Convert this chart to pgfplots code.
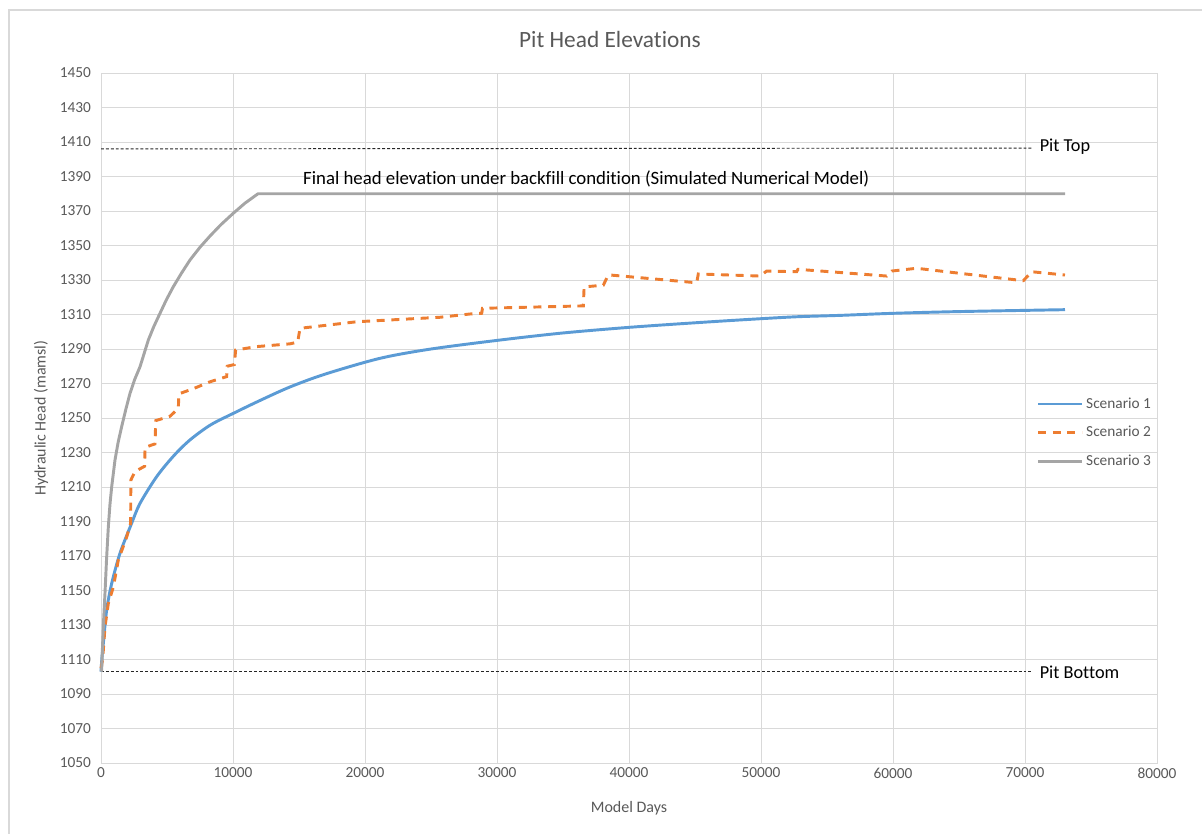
\documentclass[border=0pt]{standalone}
\usepackage{fontspec}
\setmainfont{Carlito}[Ligatures=NoCommon]
\usepackage{pgfplots}
\pgfplotsset{compat=1.18}
\definecolor{gridgray}{HTML}{D9D9D9}
\definecolor{txtgray}{HTML}{595959}
\definecolor{sone}{HTML}{5B9BD5}
\definecolor{stwo}{HTML}{ED7D31}
\definecolor{sthree}{HTML}{A5A5A5}
\definecolor{framegray}{HTML}{D9D9D9}
\begin{document}
\begin{tikzpicture}
\path[use as bounding box] (0pt,0pt) rectangle (901.5pt,-624.75pt);
\draw[framegray,line width=0.8pt] (6.75pt,-640pt) -- (6.75pt,-7.5pt) -- (910pt,-7.5pt);
\begin{axis}[
  at={(75.75pt,-572.25pt)}, anchor=south west,
  scale only axis, width=792pt, height=517.5pt,
  xmin=0, xmax=80000, ymin=1050, ymax=1450,
  xtick={0,10000,...,80000}, ytick={1050,1070,...,1450},
  scaled x ticks=false,
  xticklabel style={/pgf/number format/1000 sep={}},
  yticklabel style={/pgf/number format/1000 sep={}, xshift=-4pt},
  /pgf/number format/assume math mode=true,
  tick label style={font=\fontsize{11.5}{13}\selectfont, text=txtgray},
  major tick length=0pt,
  grid=major, grid style={draw=gridgray, line width=0.75pt},
  axis line style={draw=gridgray, line width=0.75pt},
  every axis title shift=0pt,
  title={Pit Head Elevations},
  title style={at={(axis description cs:0.482,1.0493)}, anchor=center, font=\fontsize{17.5}{20}\selectfont, text=txtgray},
  xlabel={Model Days}, ylabel={Hydraulic Head (mamsl)},
  every axis x label/.style={at={(axis description cs:0.5,-0.0652)}, anchor=center, font=\fontsize{12}{14}\selectfont, text=txtgray},
  every axis y label/.style={at={(axis description cs:-0.0568,0.5)}, rotate=90, anchor=center, font=\fontsize{12}{14}\selectfont, text=txtgray},
  legend style={at={(axis description cs:0.886,0.5338)}, anchor=north west, draw=none, fill=none, inner sep=0pt, outer sep=0pt, row sep=7.4pt,
     font=\fontsize{11.5}{13}\selectfont, text=txtgray,
     nodes={text height=8pt, text depth=2pt, inner sep=2pt}},
  legend cell align=left,
  legend image code/.code={\draw[#1] (0pt,0pt) -- (33pt,0pt);},
  clip=false,
]
% Pit top / bottom reference lines
\addplot[forget plot, black!85, line width=0.7pt, dash pattern=on 2.2pt off 1.5pt] coordinates {(0,1406) (70500,1406.5)};
\addplot[forget plot, black!85, line width=0.7pt, dash pattern=on 2.2pt off 1.5pt] coordinates {(0,1103) (70500,1103)};
% Scenario 1
\addplot[sone, line width=2.2pt, smooth, tension=0.5] coordinates {
(0,1103) (60,1110) (177,1119.4) (429,1138.7) (808,1154) (1439,1171.6) (2323,1189) (2955,1200.5) (4217,1216) (5500,1228) (6742,1237.3) (8300,1246) (10023,1252.7) (12000,1260) (14318,1268) (17000,1275.5) (21136,1284.6) (25000,1290) (30227,1295.2) (35000,1299.3) (40076,1302.6) (45000,1305.2) (49167,1307.2) (52703,1308.7) (56000,1309.5) (60025,1310.7) (65000,1311.7) (73030,1312.8)};
\addlegendentry{Scenario 1}
% Scenario 2
\addplot[stwo, line width=2.2pt, dash pattern=on 6pt off 5pt] coordinates {
(0,1105) (126,1110) (303,1129) (556,1142.6) (935,1152) (1313,1167.7) (1945,1181) (2247,1189) (2260,1214) (2576,1219) (3300,1222) (3340,1233) (4091,1235) (4150,1248.5) (5227,1251) (5859,1255.6) (5900,1264) (6995,1267) (8258,1271) (9520,1274) (9560,1280) (10100,1281) (10200,1289.4) (11793,1291.4) (14318,1293) (14900,1294) (15076,1302) (19370,1305.8) (25682,1308.4) (27955,1310.3) (28840,1310.7) (28900,1313.6) (36540,1315) (36600,1326) (38055,1327) (38434,1333) (45129,1328.4) (45250,1333.5) (49924,1332.3) (50430,1335.2) (52703,1334.8) (52800,1336.2) (59520,1332.3) (59899,1335.2) (61793,1336.8) (69874,1329.6) (70505,1334.8) (73030,1332.9)};
\addlegendentry{Scenario 2}
% Scenario 3
\addplot[sthree, line width=2.2pt, line join=round] coordinates {
(0,1103) (50,1104) (126,1119.6) (200,1133) (303,1148.5) (420,1168) (556,1187) (680,1200) (808,1210) (1061,1225.7) (1300,1236) (1566,1245) (1880,1255) (2197,1264.3) (2560,1272.5) (2955,1279.7) (3586,1295.2) (4000,1303) (4470,1310.7) (4950,1318.5) (5477,1326.1) (6100,1334) (6742,1341.6) (7500,1349) (8258,1355.5) (9100,1362.2) (10023,1368.7) (10900,1374.5) (11894,1380) (73030,1380)};
\addlegendentry{Scenario 3}
% annotations
\node[anchor=west, font=\fontsize{14.1}{16}\selectfont, inner sep=0pt] at (axis cs:15300,1388.5) {Final head elevation under backfill condition (Simulated Numerical Model)};
\node[anchor=west, font=\fontsize{13.7}{16}\selectfont, inner sep=0pt] at (axis cs:71100,1407.5) {Pit Top};
\node[anchor=west, font=\fontsize{13.7}{16}\selectfont, inner sep=0pt] at (axis cs:71100,1102.8) {Pit Bottom};
\end{axis}
\end{tikzpicture}
\end{document}
